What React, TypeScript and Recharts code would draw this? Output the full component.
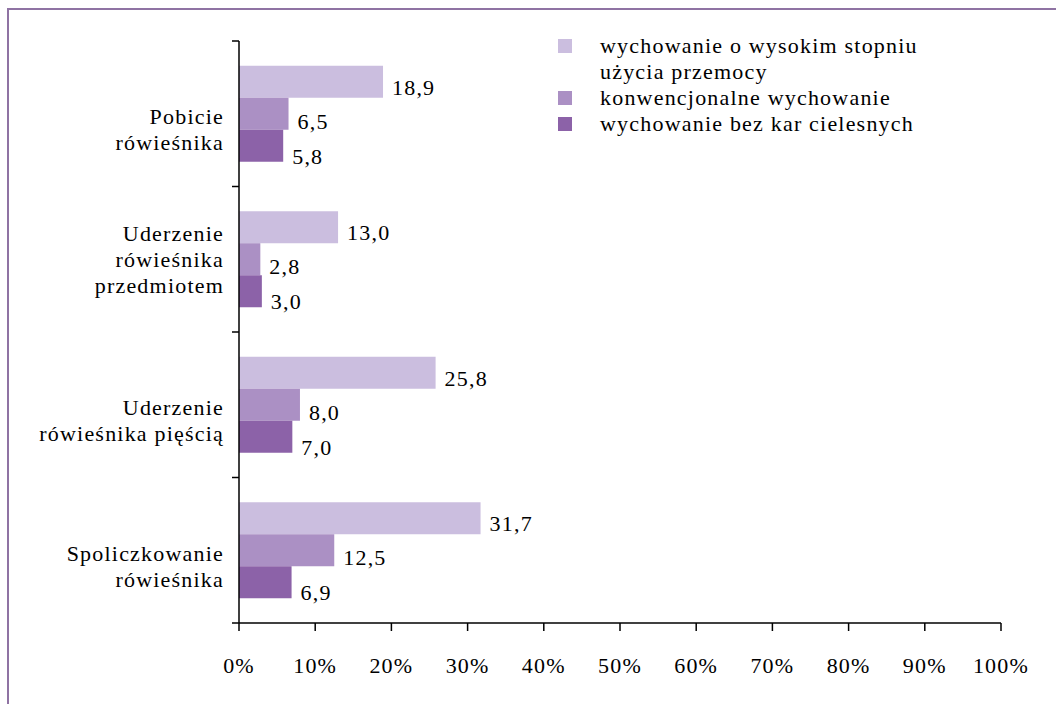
import React from 'react';
import { BarChart, Bar, XAxis, YAxis, Legend, LabelList } from 'recharts';

const categories = [
  'Pobicie\nrówieśnika',
  'Uderzenie\nrówieśnika\nprzedmiotem',
  'Uderzenie\nrówieśnika pięścią',
  'Spoliczkowanie\nrówieśnika',
];
const seriesNames = [
  'wychowanie o wysokim stopniu użycia przemocy',
  'konwencjonalne wychowanie',
  'wychowanie bez kar cielesnych',
];
const highViolence = [18.9, 13.0, 25.8, 31.7];
const conventional = [6.5, 2.8, 8.0, 12.5];
const noPunishment = [5.8, 3.0, 7.0, 6.9];
const xTicks = [0, 10, 20, 30, 40, 50, 60, 70, 80, 90, 100];

const colors = ['#cbbedf', '#ab90c4', '#8c62a8'];
const labelDy = [5, 7, 10];
const FONT = 'Liberation Serif, Times New Roman, serif';
const FONT_SIZE = 22;
const SPACING = 1.2;

const data = categories.map((name, i) => ({
  name,
  a: highViolence[i],
  b: conventional[i],
  c: noPunishment[i],
}));

const BAND = (623 - 41) / categories.length;

const fmt = (v: number) => v.toFixed(1).replace('.', ',');

const CategoryTick = (props: any) => {
  const { x, y, payload, index } = props;
  const lines: string[] = String(payload.value).split('\n');
  const offsets = lines.length === 3 ? [-26, 0, 26] : [3, 29];
  const last = index === categories.length - 1;
  return (
    <g>
      <line x1={x - 7} x2={x} y1={y - BAND / 2} y2={y - BAND / 2} stroke="#000" strokeWidth={1.5} />
      {last && <line x1={x - 7} x2={x} y1={y + BAND / 2} y2={y + BAND / 2} stroke="#000" strokeWidth={1.5} />}
      <text
        x={x - 15}
        y={y}
        textAnchor="end"
        style={{ fontFamily: FONT, fontSize: FONT_SIZE, letterSpacing: SPACING }}
        fill="#000"
      >
        {lines.map((l, i) => (
          <tspan key={i} x={x - 15} y={y + offsets[i]} dominantBaseline="central">
            {l}
          </tspan>
        ))}
      </text>
    </g>
  );
};

const LegendContent = (props: any) => {
  const payload = [...(props.payload || [])].sort(
    (p: any, q: any) => seriesNames.indexOf(p.value) - seriesNames.indexOf(q.value)
  );
  return (
    <div style={{ fontFamily: FONT, fontSize: FONT_SIZE, letterSpacing: SPACING, lineHeight: '26px', color: '#000' }}>
      {payload.map((entry: any, i: number) => (
        <div key={i} style={{ display: 'flex', alignItems: 'flex-start' }}>
          <div style={{ width: 14, height: 14, background: entry.color, marginTop: 6, marginRight: 28, flexShrink: 0 }} />
          <div style={{ width: 330 }}>{entry.value}</div>
        </div>
      ))}
    </div>
  );
};

export default function App() {
  return (
    <div style={{ position: 'absolute', left: 0, top: 0, width: 1056, height: 704, background: '#fff', overflow: 'hidden' }}>
      <div
        style={{
          position: 'absolute',
          left: 7,
          top: 8,
          width: 1100,
          height: 800,
          borderLeft: '2px solid #8f73a3',
          borderTop: '2px solid #8f73a3',
        }}
      />
      <BarChart
        width={1056}
        height={704}
        data={data}
        layout="vertical"
        margin={{ top: 41, right: 55, bottom: 21, left: 9 }}
        barCategoryGap="17%"
        barGap={0}
        style={{ position: 'absolute', left: 0, top: 0 }}
      >
        <XAxis
          type="number"
          domain={[0, 100]}
          ticks={xTicks}
          tickFormatter={(v) => `${v}%`}
          height={60}
          axisLine={{ stroke: '#000', strokeWidth: 1.5 }}
          tickLine={{ stroke: '#000', strokeWidth: 1.5 }}
          tickSize={8}
          tickMargin={26}
          tick={{ fill: '#000', style: { fontFamily: FONT, fontSize: FONT_SIZE, letterSpacing: SPACING } }}
          interval={0}
        />
        <YAxis
          type="category"
          dataKey="name"
          width={230}
          axisLine={{ stroke: '#000', strokeWidth: 1.5 }}
          tickLine={false}
          tickSize={0}
          tickMargin={0}
          tick={<CategoryTick />}
          interval={0}
        />
        <Legend
          layout="vertical"
          align="center"
          verticalAlign="middle"
          content={<LegendContent />}
          wrapperStyle={{ position: 'absolute', left: 558, top: 33, width: 420 }}
        />
        {(['a', 'b', 'c'] as const).map((key, i) => (
          <Bar key={key} dataKey={key} name={seriesNames[i]} fill={colors[i]} isAnimationActive={false}>
            <LabelList
              dataKey={key}
              position="right"
              offset={9}
              formatter={(v: any) => fmt(Number(v))}
              fill="#000"
              style={{ fontFamily: FONT, fontSize: FONT_SIZE, letterSpacing: SPACING }}
              dy={labelDy[i]}
            />
          </Bar>
        ))}
      </BarChart>
    </div>
  );
}
